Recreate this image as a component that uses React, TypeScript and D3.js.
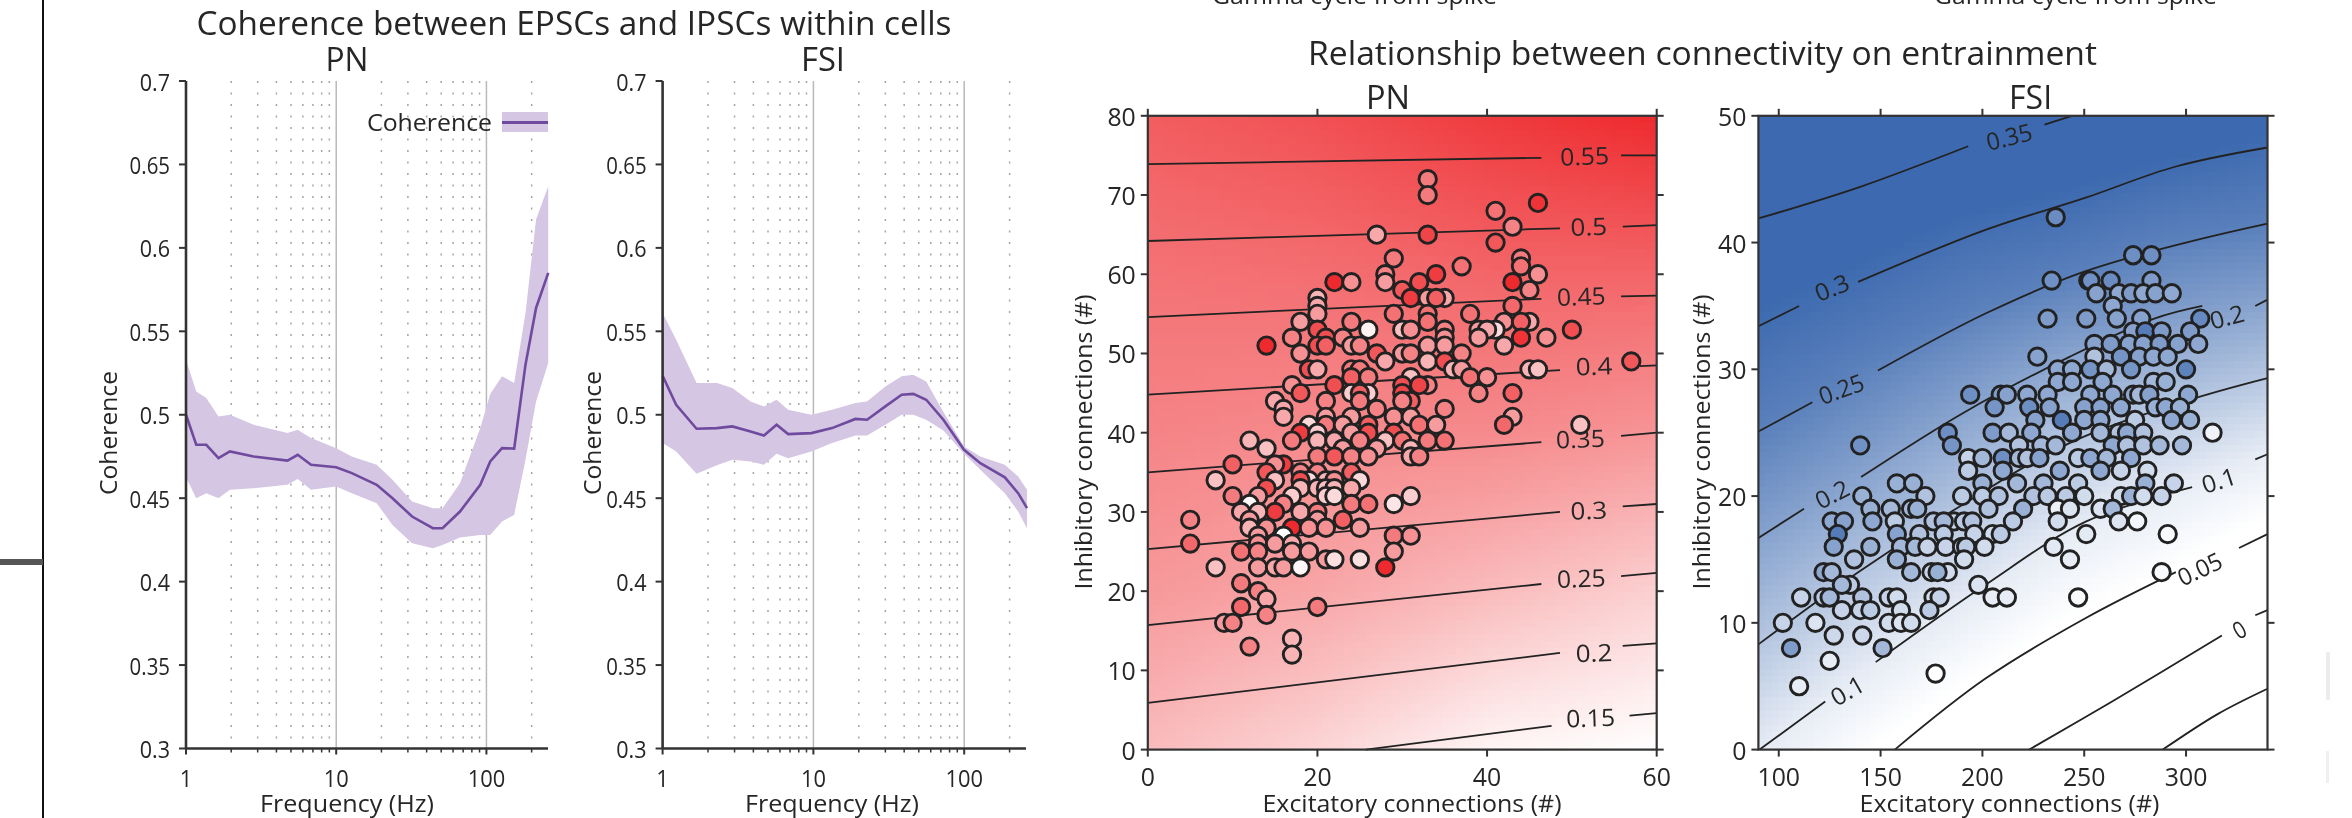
import React from "react";
import * as d3 from "d3";

// ---------- coherence panels ----------
const pnFreq = [1,1.17,1.365,1.645,1.96,2.82,4.74,5.54,6.8,10,12.7,18.6,23.7,32,44,51,66.7,91,106,127,153,182,214,258];
const pnMean = [.5,.482,.482,.474,.478,.475,.4725,.476,.47,.4685,.465,.458,.45,.439,.432,.432,.442,.458,.472,.48,.4797,.53,.564,.585];
const pnUpper = [.533,.514,.51,.499,.5,.494,.489,.491,.486,.48,.475,.47,.461,.448,.444,.444,.459,.492,.5125,.523,.519,.561,.617,.637];
const pnLower = [.4625,.45,.453,.45,.455,.456,.458,.4615,.455,.457,.453,.447,.434,.423,.42,.422,.4265,.428,.428,.436,.44,.473,.508,.531];

const fsiFreq = [1,1.23,1.68,2.29,2.9,3.83,4.7,5.7,6.8,9.7,13.3,19,22.7,30,38.5,46,56,72.8,99.8,128,186,228,261];
const fsiMean = [.5234,.506,.4916,.492,.493,.49,.4875,.494,.4884,.489,.492,.4975,.497,.505,.512,.5125,.509,.497,.479,.471,.4625,.453,.444];
const fsiUpper = [.561,.545,.519,.519,.516,.508,.505,.509,.503,.5,.503,.507,.508,.517,.523,.524,.52,.5016,.481,.475,.47,.463,.455];
const fsiLower = [.483,.478,.4647,.4697,.473,.472,.47,.4766,.474,.478,.483,.4875,.4875,.494,.5,.5,.497,.4906,.4766,.467,.453,.442,.432];

const cohTicks = [0.3,0.35,0.4,0.45,0.5,0.55,0.6,0.65,0.7];
const cohTickLabels = ["0.3","0.35","0.4","0.45","0.5","0.55","0.6","0.65","0.7"];
const freqMajor = [1,10,100];
const freqMinor = [2,3,4,5,6,7,8,9,20,30,40,50,60,70,80,90,200];

// ---------- PN heat map (white-to-red amount read at grid nodes) ----------
const pnGridX = [0,20,40,60];
const pnGridY = [0,20,40,60,80];
const pnGrid = [
  [.32,.2,.05,0],
  [.48,.42,.32,.22],
  [.58,.55,.55,.5],
  [.66,.68,.72,.72],
  [.76,.82,.92,1],
];
type Seg = [number,number][];
const pnContours: {label:string; lx:number; ly:number; segs:Seg[]}[] = [
  {label:"0.55",lx:51.5,ly:75,segs:[[[0,73.9],[46.4,74.7]],[[55.8,75],[60,75]]]},
  {label:"0.5",lx:52,ly:66.1,segs:[[[0,64.2],[48.6,65.8]],[[56,66],[60,66.2]]]},
  {label:"0.45",lx:51.1,ly:57.3,segs:[[[0,54.6],[46.4,56.9]],[[55.8,57.2],[60,57.3]]]},
  {label:"0.4",lx:52.6,ly:48.5,segs:[[[0,44.8],[48.6,47.9]],[[58,48.4],[60,48.5]]]},
  {label:"0.35",lx:51,ly:39.3,segs:[[[0,35],[46.4,38.8]],[[55.8,39.6],[60,40]]]},
  {label:"0.3",lx:52,ly:30.3,segs:[[[0,25.3],[48.6,30]],[[56,30.7],[60,31]]]},
  {label:"0.25",lx:51.1,ly:21.7,segs:[[[0,15.7],[46.4,20.9]],[[55.8,21.9],[60,22.3]]]},
  {label:"0.2",lx:52.6,ly:12.3,segs:[[[0,5.9],[48.6,12.2]],[[56,13.1],[60,13.4]]]},
  {label:"0.15",lx:52.2,ly:4.1,segs:[[[25.7,0],[47.6,3]],[[56.8,4.3],[60,4.6]]]},
];
const pnPoints: [number,number,number][] = [
[33,72,.55],[33,70,.55],[46,69,.95],[41,68,.6],[43,66,.5],[27,65,.35],[33,65,.85],[41,64,.75],[29,62,.55],[44,62,.55],[37,61,.6],[44,61,.6],[28,60,.5],[34,60,.9],[46,60,.45],[22,59,1],[24,59,.45],[28,59,.4],[32,59,.8],[43,59,1],[30,58,.75],[45,58,.5],[20,57,.3],[31,57,.9],[33,57,.4],[35,57,.35],[34,57,.7],[20,56,.35],[43,56,.65],[20,55,.4],[29,55,.6],[33,55,.6],[38,55,.6],[18,54,.4],[24,54,.55],[33,54,.6],[42,54,.45],[45,54,.35],[44,54,.7],[20,53,.8],[26,53,.05],[30,53,.25],[31,53,.45],[35,53,.5],[39,53,.4],[41,53,.15],[40,53,.35],[50,53,.8],[17,52,.5],[21,52,.8],[23,52,.5],[35,52,.45],[39,52,.4],[44,52,.95],[47,52,.45],[14,51,1],[20,51,.8],[21,51,.7],[24,51,.4],[25,51,.5],[33,51,.4],[35,51,.4],[42,51,.35],[18,50,.45],[27,50,.75],[30,50,.4],[31,50,.5],[37,50,.5],[28,49,.35],[33,49,.3],[35,49,.8],[57,49,.75],[19,48,.8],[20,48,.35],[24,48,.55],[25,48,.55],[36,48,.3],[37,48,.4],[45,48,.3],[46,48,.25],[24,47,.7],[26,47,.55],[31,47,.25],[38,47,.6],[40,47,.45],[17,46,.45],[22,46,.8],[30,46,.8],[33,46,.5],[32,46,.85],[18,45,.75],[24,45,.2],[26,45,.2],[25,45,.7],[30,45,.85],[39,45,.5],[43,45,.7],[15,44,.35],[21,44,.5],[25,44,.55],[31,44,.7],[30,44,.5],[16,43,.35],[27,43,.5],[35,43,.5],[16,42,.35],[21,42,.4],[24,42,.4],[29,42,.45],[31,42,.4],[43,42,.4],[19,41,.15],[21,41,.55],[23,41,.4],[26,41,.7],[32,41,.6],[34,41,.4],[42,41,.65],[51,41,.25],[18,40,.9],[20,40,.2],[24,40,.4],[26,40,.8],[29,40,.8],[12,39,.3],[17,39,.55],[20,39,.3],[22,39,.35],[25,39,.5],[28,39,.25],[30,39,.6],[33,39,.55],[35,39,.6],[14,38,.25],[23,38,.4],[27,38,.4],[31,38,.3],[20,37,.55],[22,37,.75],[24,37,.5],[26,37,.45],[31,37,.35],[32,37,.5],[10,36,.7],[16,36,.9],[15,36,.45],[14,35,.75],[18,35,.5],[20,35,.5],[24,35,.7],[8,34,.25],[15,34,.25],[19,34,.15],[18,34,.8],[21,34,.3],[22,34,.45],[25,34,.15],[14,33,.8],[18,33,.3],[20,33,.3],[21,33,.25],[22,33,.3],[24,33,.35],[10,32,.55],[13,32,.4],[17,32,.2],[21,32,.2],[22,32,.15],[31,32,.2],[12,31,.02],[16,31,.5],[24,31,.55],[26,31,.6],[29,31,.1],[11,30,.35],[15,30,.9],[13,30,.3],[18,30,.35],[20,30,.55],[5,29,.5],[12,29,.4],[20,29,.4],[23,29,.7],[12,28,.3],[14,28,.45],[17,28,1],[19,28,.45],[21,28,.45],[25,28,.4],[13,27,.4],[16,27,0],[29,27,.55],[31,27,.45],[5,26,.65],[13,26,.45],[15,26,.4],[17,26,.35],[11,25,.6],[13,25,.5],[17,25,.4],[19,25,.4],[29,25,.4],[21,24,.4],[22,24,.12],[25,24,.12],[8,23,.25],[13,23,.4],[15,23,.35],[16,23,.4],[18,23,.03],[28,23,1],[11,21,.55],[13,20,.5],[14,19,.35],[11,18,.65],[20,18,.55],[14,17,.5],[9,16,.4],[10,16,.5],[17,14,.3],[12,13,.5],[17,12,.3],
];

// ---------- FSI heat map (contour field read at grid nodes) ----------
const fsiGridX = [90,140,190,240,290,340];
const fsiGridY = [0,10,20,30,40,50];
const fsiGrid = [
  [.1,.06,.02,-.01,-.05,-.09],
  [.16,.125,.09,.054,.03,-.01],
  [.22,.19,.157,.12,.095,.07],
  [.28,.25,.22,.19,.175,.155],
  [.34,.32,.292,.275,.25,.24],
  [.4,.38,.37,.355,.34,.32],
];
const fsiLevels = [.055,.1,.15,.2,.25,.31];
const fsiLevelAmounts = [0,.13,.38,.62,.84,1];
const fsiContours: {segs:Seg[]}[] = [
  {segs:[[[90,41.9],[140,44.4],[193,47.6]],[[230.5,49.3],[244,50]]]},
  {segs:[[[90,33.4],[110,35]],[[139,36.9],[201.5,41],[250,43.5],[295,46],[340,47.5]]]},
  {segs:[[[90,25.1],[116.5,27.4]],[[148.7,29.9],[201.5,34.4],[250,37.7],[300,40],[340,41.5]]]},
  {segs:[[[90,16.7],[112.4,19]],[[140.4,21.5],[191,26.6],[243,31],[284.4,34],[308,35]],[[334,35],[340,35.5]]]},
  {segs:[[[90,8.3],[139,14],[185,18.8],[243,24.2],[300,27.5],[340,29.3]]]},
  {segs:[[[90.6,0],[122.8,3.8]],[[147.6,6.9],[201.5,13],[251,18],[303,20.7]],[[334,22.9],[340,23.3]]]},
  {segs:[[[157,0],[201.5,5.6],[251,10.4],[295,14]],[[326,15.9],[340,17]]]},
  {segs:[[[223,0],[263.7,3.8],[317.6,9]],[[334,10.6],[340,11]]]},
  {segs:[[[288.6,0],[315.5,2.8],[340,4.8]]]},
];
const fsiLabels: [string,number,number,number][] = [
  ["0.35",213,48.4,-14],["0.3",126,36.5,-22],["0.25",130.6,28.5,-20],["0.2",126,20.2,-27],["0.2",320,34.2,-15],
  ["0.1",133.5,4.7,-30],["0.1",316,21.3,-18],["0.05",306.6,14.3,-25],["0",326,9.5,-30],
];
const fsiPoints: [number,number,number][] = [
[236,42,.72],[274,39,.7],[283,39,.7],[234,37,.68],[252,37,.65],[253,37,.68],[263,37,.72],[283,37,.6],[256,36,.55],[267,36,.5],[273,36,.6],[279,36,.5],[285,36,.55],[293,36,.5],[264,35,.5],[232,34,.6],[251,34,.6],[266,34,.55],[278,34,.55],[307,34,.75],[274,33,.55],[280,33,.85],[288,33,.6],[302,33,.6],[255,32,.55],[263,32,.6],[272,32,.55],[279,32,.55],[287,32,.6],[296,32,.55],[306,32,.5],[227,31,.55],[255,31,.35],[268,31,.65],[277,31,.55],[284,31,.5],[291,31,.5],[237,30,.5],[244,30,.5],[253,30,.65],[261,30,.4],[273,30,.65],[300,30,.8],[237,29,.5],[244,29,.5],[259,29,.5],[284,29,.4],[290,29,.45],[194,28,.7],[209,28,.6],[212,28,.55],[222,28,.5],[232,28,.5],[253,28,.5],[264,28,.5],[274,28,.5],[277,28,.4],[282,28,.55],[301,28,.5],[206,27,.65],[223,27,.7],[233,27,.55],[250,27,.55],[258,27,.55],[268,27,.5],[285,27,.45],[290,27,.5],[297,27,.45],[226,26,.55],[239,26,.85],[250,26,.5],[258,26,.5],[275,26,.3],[293,26,.5],[302,26,.45],[183,25,.7],[205,25,.6],[213,25,.4],[224,25,.5],[244,25,.5],[258,25,.4],[267,25,.35],[271,25,.5],[279,25,.35],[313,25,.07],[140,24,.68],[185,24,.65],[218,24,.35],[229,24,.4],[236,24,.4],[264,24,.5],[271,24,.35],[279,24,.35],[287,24,.4],[298,24,.4],[193,23,.25],[200,23,.4],[210,23,.7],[218,23,.4],[222,23,.35],[228,23,.55],[247,23,.3],[253,23,.5],[261,23,.4],[273,23,.5],[193,22,.3],[210,22,.5],[238,22,.5],[258,22,.5],[268,22,.25],[281,22,.2],[158,21,.45],[166,21,.45],[200,21,.45],[217,21,.4],[230,21,.4],[247,21,.3],[280,21,.45],[294,21,.25],[141,20,.45],[172,20,.35],[190,20,.3],[200,20,.3],[208,20,.35],[225,20,.35],[232,20,.3],[241,20,.3],[250,20,.2],[268,20,.2],[273,20,.45],[279,20,.2],[288,20,.25],[145,19,.45],[155,19,.4],[165,19,.4],[168,19,.45],[203,19,.35],[220,19,.45],[237,19,.08],[243,19,.15],[258,19,.15],[264,19,.4],[126,18,.5],[132,18,.55],[146,18,.5],[176,18,.35],[186,18,.25],[191,18,.3],[195,18,.35],[157,18,.3],[181,18,.4],[215,18,.3],[237,18,.2],[267,18,.15],[276,18,.05],[158,17,.55],[169,17,.35],[181,17,.3],[196,17,.25],[205,17,.2],[209,17,.3],[251,17,.12],[291,17,.03],[129,17,.85],[127,16,.55],[145,16,.45],[160,16,.4],[167,16,.4],[173,16,.25],[182,16,.25],[190,16,.25],[192,16,.3],[201,16,.2],[235,16,.12],[137,15,.35],[158,15,.45],[191,15,.2],[243,15,.1],[122,14,.5],[126,14,.4],[165,14,.4],[175,14,.25],[183,14,.2],[178,14,.45],[288,14,.03],[135,13,.3],[131,13,.4],[198,13,.15],[111,12,.25],[122,12,.3],[125,12,.4],[141,12,.35],[154,12,.25],[158,12,.2],[176,12,.2],[179,12,.25],[205,12,.1],[212,12,.1],[247,12,.03],[131,11,.25],[140,11,.25],[145,11,.3],[160,11,.2],[174,11,.3],[102,10,.25],[118,10,.15],[154,10,.2],[160,10,.15],[165,10,.2],[127,9,.22],[141,9,.22],[106,8,.6],[151,8,.4],[125,7,.1],[177,6,0],[110,5,.1],
];

const axisColor = "#333";
const textColor = "#262626";
const font = "'Open Sans','Noto Sans',sans-serif";

const bilinear = (gx:number[], gy:number[], g:number[][], x:number, y:number) => {
  const i = Math.min(gx.length-2, Math.max(0, d3.bisectRight(gx,x)-1));
  const j = Math.min(gy.length-2, Math.max(0, d3.bisectRight(gy,y)-1));
  const tx = (x-gx[i])/(gx[i+1]-gx[i]);
  const ty = (y-gy[j])/(gy[j+1]-gy[j]);
  return d3.interpolateNumber(
    d3.interpolateNumber(g[j][i],g[j][i+1])(tx),
    d3.interpolateNumber(g[j+1][i],g[j+1][i+1])(tx))(ty);
};

function Txt({x,y,size,anchor="middle",len,rotate,children}:any){
  const t = rotate!==undefined ? `rotate(${rotate} ${x} ${y})` : undefined;
  return <text x={x} y={y} fontSize={size} textAnchor={anchor} dominantBaseline="central" fontFamily={font} fill={textColor}
    transform={t} textLength={len} lengthAdjust={len?"spacingAndGlyphs":undefined}>{children}</text>;
}

function Coherence({x0,x1,title,titleX,freqX,yLabelX,freq,mean,upper,lower,legend}:any){
  const yTop=81, yBot=748.5;
  const x = d3.scaleLog().domain([1,257]).range([x0,x1]);
  const y = d3.scaleLinear().domain([0.3,0.7]).range([yBot,yTop]);
  const area = d3.area<number>().x((_,i)=>x(freq[i])).y0((_,i)=>y(lower[i])).y1((_,i)=>y(upper[i]));
  const line = d3.line<number>().x((_,i)=>x(freq[i])).y(d=>y(d));
  return <g>
    {freqMinor.map(f=><line key={f} x1={x(f)} x2={x(f)} y1={yTop} y2={yBot} stroke="#a5a5a5" strokeWidth={1.5} strokeDasharray="2 9.5"/>)}
    {[10,100].map(f=><line key={f} x1={x(f)} x2={x(f)} y1={yTop} y2={yBot} stroke="#b9b9b9" strokeWidth={1.5}/>)}
    <path d={area(mean) as string} fill="#d5c6e3"/>
    <path d={line(mean) as string} fill="none" stroke="#6f4a9e" strokeWidth={2.6}/>
    <line x1={x0} x2={x0} y1={yTop} y2={yBot} stroke={axisColor} strokeWidth={2.6}/>
    <line x1={x0} x2={x1} y1={yBot} y2={yBot} stroke={axisColor} strokeWidth={2.6}/>
    {cohTicks.map((t,i)=><g key={t}>
      <line x1={x0-7} x2={x0} y1={y(t)} y2={y(t)} stroke={axisColor} strokeWidth={2}/>
      <Txt x={x0-16} y={y(t)} size={24} anchor="end" len={cohTickLabels[i].length*10.1}>{cohTickLabels[i]}</Txt>
    </g>)}
    {freqMajor.map(f=><g key={f}>
      <line x1={x(f)} x2={x(f)} y1={yBot} y2={yBot+6} stroke={axisColor} strokeWidth={2}/>
      <Txt x={x(f)} y={777} size={24} len={String(f).length*12.5}>{f}</Txt>
    </g>)}
    {freqMinor.map(f=><line key={f} x1={x(f)} x2={x(f)} y1={yBot} y2={yBot+4} stroke={axisColor} strokeWidth={1.5}/>)}
    <Txt x={titleX} y={58} size={32} len={title==="PN"?43:44}>{title}</Txt>
    <Txt x={freqX} y={803} size={23} len={174}>Frequency (Hz)</Txt>
    <Txt x={yLabelX} y={433} size={23} rotate={-90} len={124}>Coherence</Txt>
    {legend && <g>
      <rect x={502} y={112} width={46} height={20} fill="#d5c6e3"/>
      <line x1={502} x2={548} y1={122.5} y2={122.5} stroke="#6f4a9e" strokeWidth={3}/>
      <Txt x={492} y={121.5} size={24} anchor="end" len={125}>Coherence</Txt>
    </g>}
  </g>;
}

function Frame({x,y,xTicks,yTicks}:any){
  const [l,r]=x.range(); const [b,t]=y.range();
  return <g>
    <rect x={l} y={t} width={r-l} height={b-t} fill="none" stroke={axisColor} strokeWidth={2.2}/>
    {xTicks.map((v:number)=><g key={v}>
      <line x1={x(v)} x2={x(v)} y1={b} y2={b+7} stroke={axisColor} strokeWidth={2}/>
      <line x1={x(v)} x2={x(v)} y1={t} y2={t-7} stroke={axisColor} strokeWidth={2}/>
      <Txt x={x(v)} y={776} size={25} len={String(v).length*14.2}>{v}</Txt>
    </g>)}
    {yTicks.map((v:number)=><g key={v}>
      <line x1={l-7} x2={l} y1={y(v)} y2={y(v)} stroke={axisColor} strokeWidth={2}/>
      <line x1={r} x2={r+7} y1={y(v)} y2={y(v)} stroke={axisColor} strokeWidth={2}/>
      <Txt x={l-12} y={y(v)} size={25} anchor="end" len={String(v).length*14.2}>{v}</Txt>
    </g>)}
  </g>;
}

function Cells({x,y,color}:any){
  const [l,r]=x.range(); const [b,t]=y.range();
  const s=7;
  const cols=d3.range(l,r,s), rows=d3.range(t,b,s);
  return <g shapeRendering="crispEdges">
    {rows.map((py:number)=>cols.map((px:number)=><rect key={px+"_"+py} x={px} y={py} width={Math.min(s+.5,r-px)} height={Math.min(s+.5,b-py)}
      fill={color(x.invert(px+s/2),y.invert(py+s/2))}/>))}
  </g>;
}

function PN(){
  const x=d3.scaleLinear().domain([0,60]).range([1147.8,1656.7]);
  const y=d3.scaleLinear().domain([0,80]).range([749.6,115.8]);
  const red=d3.interpolateRgb("#ffffff","#ee2a2e");
  const fillAmount=d3.scaleLinear().domain([0,.1,.5,1]).range([0,.12,.58,1]);
  const ln=d3.line<[number,number]>().x(d=>x(d[0])).y(d=>y(d[1]));
  return <g>
    <Cells x={x} y={y} color={(a:number,b:number)=>red(bilinear(pnGridX,pnGridY,pnGrid,a,b))}/>
    {pnContours.map(c=><g key={c.label}>
      {c.segs.map((s,i)=><path key={i} d={ln(s) as string} fill="none" stroke="#222" strokeWidth={1.8}/>)}
      <Txt x={x(c.lx)} y={y(c.ly)} size={24} rotate={-2} len={c.label.length*12.2}>{c.label}</Txt>
    </g>)}
    {pnPoints.map((p,i)=><circle key={i} cx={x(p[0])} cy={y(p[1])} r={8.7} fill={red(fillAmount(p[2]))} stroke="#222" strokeWidth={2.9}/>)}
    <Frame x={x} y={y} xTicks={[0,20,40,60]} yTicks={d3.range(0,81,10)}/>
    <Txt x={1388} y={96} size={32} len={44}>PN</Txt>
    <Txt x={1412} y={803} size={23} len={299}>Excitatory connections (#)</Txt>
    <Txt x={1082.5} y={442} size={23} rotate={-90} len={295}>Inhibitory connections (#)</Txt>
  </g>;
}

function FSI(){
  const x=d3.scaleLinear().domain([90,340]).range([1758.4,2267.5]);
  const y=d3.scaleLinear().domain([0,50]).range([749.6,115.8]);
  const blue=d3.interpolateRgb("#ffffff","#3c69af");
  const amount=d3.scaleLinear().domain(fsiLevels).range(fsiLevelAmounts).clamp(true);
  const fillAmount=d3.scaleLinear().domain([0,.1,.5,1]).range([0,.12,.58,1]);
  const ln=d3.line<[number,number]>().x(d=>x(d[0])).y(d=>y(d[1])).curve(d3.curveCatmullRom);
  return <g>
    <Cells x={x} y={y} color={(a:number,b:number)=>blue(amount(bilinear(fsiGridX,fsiGridY,fsiGrid,a,b)))}/>
    {fsiContours.map((c,k)=><g key={k}>
      {c.segs.map((s,i)=><path key={i} d={ln(s) as string} fill="none" stroke="#222" strokeWidth={1.8}/>)}
    </g>)}
    {fsiLabels.map((l,i)=><Txt key={i} x={x(l[1])} y={y(l[2])} size={24} rotate={l[3]} len={l[0].length*11.6}>{l[0]}</Txt>)}
    {fsiPoints.map((p,i)=><circle key={i} cx={x(p[0])} cy={y(p[1])} r={8.7} fill={blue(fillAmount(p[2]))} stroke="#222" strokeWidth={2.9}/>)}
    <Frame x={x} y={y} xTicks={[100,150,200,250,300]} yTicks={d3.range(0,51,10)}/>
    <Txt x={2030.6} y={96} size={32} len={43}>FSI</Txt>
    <Txt x={2009.5} y={803} size={23} len={300}>Excitatory connections (#)</Txt>
    <Txt x={1700.5} y={442} size={23} rotate={-90} len={295}>Inhibitory connections (#)</Txt>
  </g>;
}

export default function App(){
  return <svg width={2352} height={818} style={{position:"absolute",left:0,top:0,filter:"blur(0.5px)"}}>
    <rect width={2352} height={818} fill="#fff"/>
    <line x1={43} x2={43} y1={0} y2={818} stroke="#111" strokeWidth={2}/>
    <rect x={0} y={559} width={43} height={6} fill="#555"/>
    <rect x={2326} y={652} width={4} height={48} fill="#ececec"/>
    <rect x={2326} y={751} width={3} height={32} fill="#efefef"/>
    <Txt x={1354.5} y={-5} size={23} len={285}>Gamma cycle from spike</Txt>
    <Txt x={2075.5} y={-5} size={23} len={283}>Gamma cycle from spike</Txt>
    <Txt x={574} y={22} size={32} len={755}>Coherence between EPSCs and IPSCs within cells</Txt>
    <Txt x={1702.5} y={52} size={32} len={789}>Relationship between connectivity on entrainment</Txt>
    <Coherence x0={186} x1={548} title="PN" titleX={347} freqX={347} yLabelX={108} freq={pnFreq} mean={pnMean} upper={pnUpper} lower={pnLower} legend/>
    <Coherence x0={662.6} x1={1026} title="FSI" titleX={823} freqX={832} yLabelX={592} freq={fsiFreq} mean={fsiMean} upper={fsiUpper} lower={fsiLower}/>
    <PN/>
    <FSI/>
  </svg>;
}
